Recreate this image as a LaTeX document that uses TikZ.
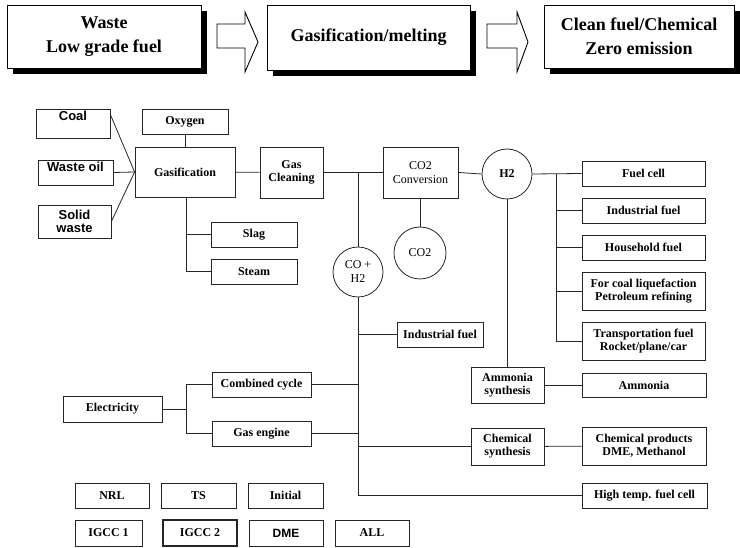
\documentclass[tikz,border=0pt]{standalone}
\usepackage{fontspec}
\setmainfont{Liberation Serif}
\newfontfamily\heavysans{Liberation Sans}
\usetikzlibrary{calc}

% box from (x1,y1) to (x2,y2), y measured downwards
\newcommand\boxnode[7][]{%
  \node[lbox, minimum width={(#4-#2)*1pt}, minimum height={(#5-#3)*1pt}, #1]
    (#6) at ({(#2+#4)/2},{(#3+#5)/2}) {#7};}
% headline box with a solid drop shadow
\newcommand\headbox[6]{%
  \fill[black] ({#2+6},{#3+6}) rectangle ({#4+6},{#5+6});
  \node[topbox, minimum width={(#4-#2)*1pt}, minimum height={(#5-#3)*1pt}]
    (#1) at ({(#2+#4)/2},{(#3+#5)/2}) {#6};}

\tikzset{
  lbox/.style={draw=black!85, line width=0.8pt, fill=white, inner sep=1pt,
    align=center, font=\fontsize{12}{13}\selectfont\bfseries},
  lightlbl/.style={font=\fontsize{12}{14}\selectfont},
  sanslbl/.style={font=\fontsize{13}{14}\heavysans\bfseries},
  topbox/.style={draw, line width=0.9pt, fill=white, inner sep=0pt,
    align=center, font=\fontsize{18}{24}\selectfont\bfseries},
  wire/.style={draw=black!85, line width=0.8pt},
  blockarrow/.style={draw, line width=0.9pt, fill=white, line join=miter},
  gascircle/.style={circle, draw=black!85, line width=0.8pt, fill=white,
    inner sep=0pt, align=center, font=\fontsize{12}{14}\selectfont},
}

\begin{document}
\begin{tikzpicture}[x=1pt, y=-1pt]
\useasboundingbox (0,0) rectangle (740,548);

% ---- headline: process overview ----
\headbox{hin}{7}{5}{201}{68}{Waste\\Low grade fuel}
\headbox{hmid}{267}{5}{470}{70}{Gasification/melting}
\headbox{hout}{544}{5}{734}{68}{Clean fuel/Chemical\\Zero emission}

\draw[blockarrow] (217,24) -- (245,24) -- (245,12) -- (258,42) -- (245,72)
  -- (245,48) -- (217,48) -- cycle;
\draw[blockarrow] (487,24) -- (517,24) -- (517,12) -- (528,42) -- (517,72)
  -- (517,48) -- (487,48) -- cycle;

% ---- feedstocks and gasifier ----
\boxnode[label={[sanslbl, anchor=north, yshift=1pt]north:Coal}]{36}{109}{110}{138}{coal}{}
\boxnode[label={[sanslbl, anchor=north, yshift=1pt]north:Waste oil}]{38}{160}{113}{185}{oil}{}
\boxnode[sanslbl, align=center, font=\fontsize{13}{13}\heavysans\bfseries]{38}{205}{111}{238}{solid}{Solid\\waste}
\boxnode{142}{109}{228}{134}{oxy}{Oxygen}
\boxnode{135}{147}{235}{197}{gasif}{Gasification}
\boxnode{260}{147}{323}{198}{clean}{Gas\\Cleaning}
\boxnode{211}{222}{297}{247}{slag}{Slag}
\boxnode{211}{259}{297}{284}{steam}{Steam}
\boxnode[lightlbl]{383}{147}{458}{198}{conv}{CO2\\Conversion}

\node[gascircle, minimum size=50pt] (syngas) at (358,272) {CO +\\H2};
\node[gascircle, minimum size=52pt] (co2) at (420,253) {CO2};
\node[gascircle, minimum size=50pt, font=\fontsize{12}{14}\selectfont\bfseries] (h2) at (507,174) {H2};

% ---- hydrogen uses ----
\boxnode{582}{161}{705}{186}{fcell}{Fuel cell}
\boxnode{582}{198}{705}{223}{indA}{Industrial fuel}
\boxnode{582}{235}{705}{260}{house}{Household fuel}
\boxnode{582}{272}{705}{310}{liq}{For coal liquefaction\\Petroleum refining}
\boxnode{582}{322}{705}{360}{trans}{Transportation fuel\\Rocket/plane/car}
\boxnode{471}{367}{544}{403}{ammsyn}{Ammonia\\synthesis}
\boxnode{582}{373}{706}{397}{amm}{Ammonia}

% ---- syngas uses ----
\boxnode{397}{322}{483}{347}{indB}{Industrial fuel}
\boxnode{212}{372}{311}{397}{cc}{Combined cycle}
\boxnode{212}{421}{311}{446}{ge}{Gas engine}
\boxnode{63}{396}{162}{422}{elec}{Electricity}
\boxnode{471}{428}{544}{465}{chemsyn}{Chemical\\synthesis}
\boxnode{582}{427}{706}{465}{chemprod}{Chemical products\\DME, Methanol}
\boxnode{582}{483}{707}{508}{hot}{High temp. fuel cell}

% ---- case legend ----
\boxnode{75}{483}{149}{508}{nrl}{NRL}
\boxnode{161}{483}{236}{508}{ts}{TS}
\boxnode{248}{483}{323}{508}{init}{Initial}
\boxnode{75}{520}{142}{546}{igA}{IGCC 1}
\boxnode[line width=1.1pt]{163}{520}{237}{546}{igB}{IGCC 2}
\boxnode[font=\fontsize{12}{13}\heavysans\bfseries]{249}{520}{323}{546}{dme}{DME}
\boxnode{335}{520}{409}{546}{all}{ALL}

% ---- connectors ----
\coordinate (gin) at (gasif.west);
\draw[wire] ($(coal.north east)+(0,6)$) -- (gin);
\draw[wire] (oil.east) -- (gin);
\draw[wire] (solid.east) -- (gin);
\draw[wire] (oxy.south -| 185,0) -- (gasif.north -| 185,0);
\draw[wire] (gasif) -- (clean);
\draw[wire] (gasif.south -| 186,0) |- (steam.west);
\draw[wire] (slag.west -| 186,0) -- (slag.west);

\draw[wire] (clean) -- (conv);
\draw[wire] (clean.east -| syngas.north) -- (syngas.north);
\draw[wire] (conv.south -| co2.north) -- (co2.north);
\draw[wire] (conv.east) -- (h2.west);

% hydrogen bus
\coordinate (hbus) at (556,0);
\draw[wire] (h2.east) -- (fcell.west);
\draw[wire] (h2.east -| hbus) |- (trans.west);
\foreach \t in {indA, house, liq}
  \draw[wire] (\t.west -| hbus) -- (\t.west);
\draw[wire] (h2.south) -- (h2.south |- ammsyn.north);
\draw[wire] (ammsyn) -- (amm);

% syngas bus
\coordinate (sbus) at (359,0);
\draw[wire] (syngas.south) -- (syngas.south |- hot.west) -- (hot.west);
\draw[wire] (indB.west -| sbus) -- (indB.west);
\draw[wire] (cc.east) -- (cc.east -| sbus);
\draw[wire] (ge.east) -- (ge.east -| sbus);
\draw[wire] (chemsyn.west -| sbus) -- (chemsyn.west);
\draw[wire] (chemsyn) -- (chemprod);

% power block
\coordinate (ebus) at (186,0);
\draw[wire] (elec.east) -- (elec.east -| ebus);
\draw[wire] (cc.west) -| (ebus |- ge.west) -- (ge.west);
\end{tikzpicture}
\end{document}
